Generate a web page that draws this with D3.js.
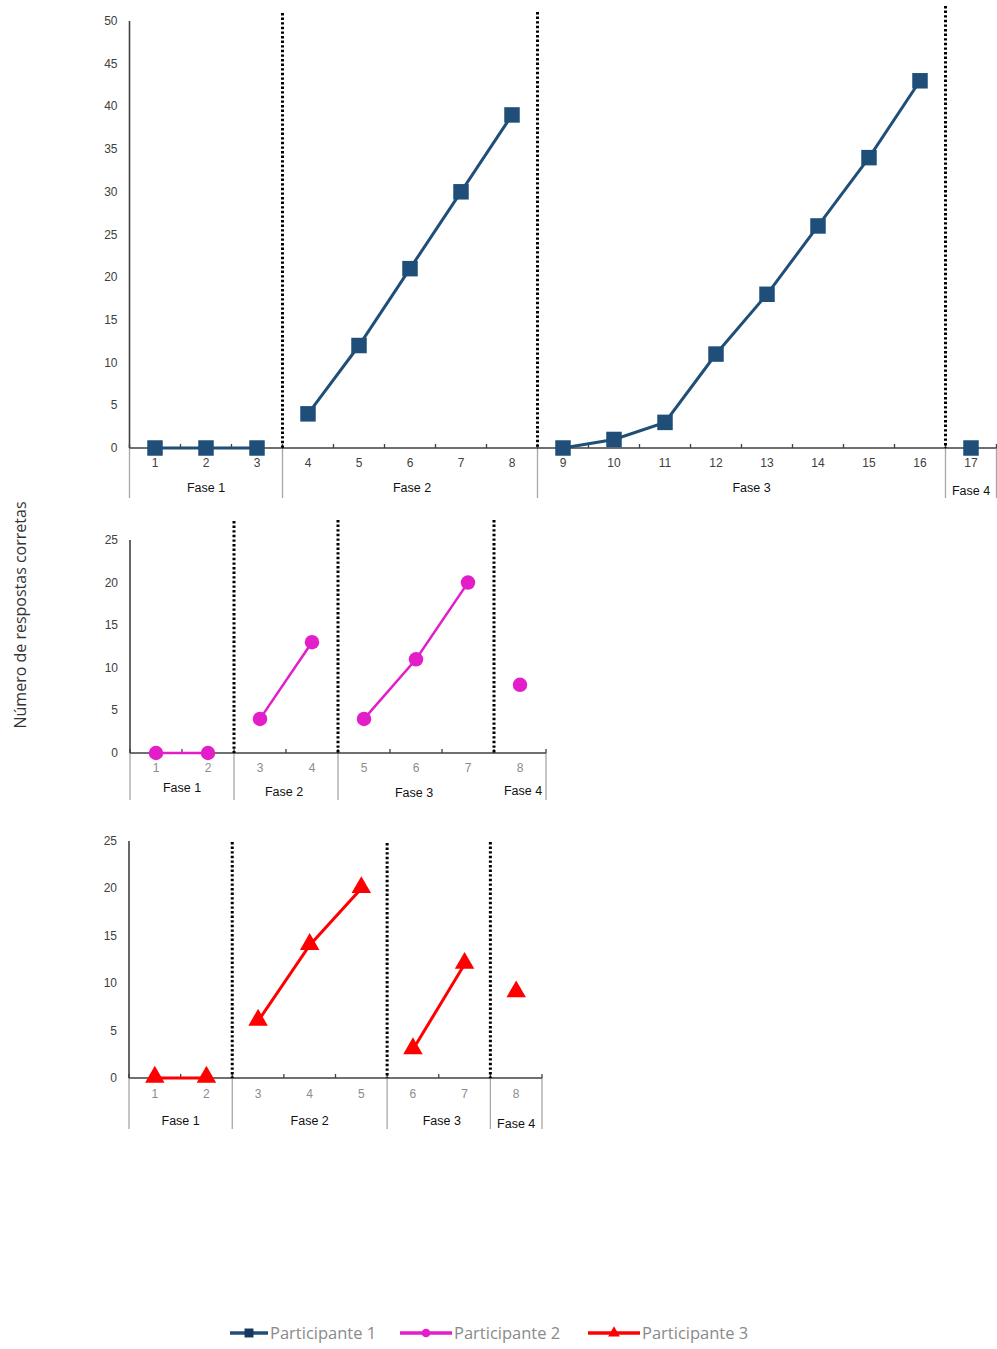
<!DOCTYPE html>
<html>
<head>
<meta charset="utf-8">
<script src="https://cdn.jsdelivr.net/npm/d3@7"></script>
<style>
  body { margin: 0; background: #fff; }
  svg { display: block; }
  .tick-label { font-family: Arial, "Liberation Sans", sans-serif; font-size: 12px; fill: #404040; }
  .phase-label { font-family: Arial, "Liberation Sans", sans-serif; font-size: 12.5px; fill: #111; }
</style>
</head>
<body>
<script>
// data
var phaseNames = ['Fase 1', 'Fase 2', 'Fase 3', 'Fase 4'];

var p1Sessions = ['1','2','3','4','5','6','7','8','9','10','11','12','13','14','15','16','17'];
var p1Values = [0, 0, 0, 4, 12, 21, 30, 39, 0, 1, 3, 11, 18, 26, 34, 43, 0];
var p1PhaseSizes = [3, 5, 8, 1];
var p1Ticks = [0, 5, 10, 15, 20, 25, 30, 35, 40, 45, 50];

var p2Sessions = ['1','2','3','4','5','6','7','8'];
var p2Values = [0, 0, 4, 13, 4, 11, 20, 8];
var p2PhaseSizes = [2, 2, 3, 1];
var p2Ticks = [0, 5, 10, 15, 20, 25];

var p3Sessions = ['1','2','3','4','5','6','7','8'];
var p3Values = [0, 0, 6, 14, 20, 3, 12, 9];
var p3PhaseSizes = [2, 3, 2, 1];
var p3Ticks = [0, 5, 10, 15, 20, 25];

var legendNames = ['Participante 1', 'Participante 2', 'Participante 3'];

var W = 997, H = 1349;

var svg = d3.select('body').append('svg')
  .attr('width', W)
  .attr('height', H)

svg.append('rect').attr('width', W).attr('height', H).attr('fill', '#fff')

// y axis title
svg.append('text')
  .attr('transform', 'translate(26,615) rotate(-90)')
  .attr('text-anchor', 'middle')
  .attr('font-family', '"Open Sans", "Noto Sans", sans-serif')
  .attr('font-size', '16px')
  .attr('fill', '#333')
  .text('Número de respostas corretas')

var panels = [
  { sessions: p1Sessions, values: p1Values, sizes: p1PhaseSizes, ticks: p1Ticks,
    x0: 129.5, x1: 996.5, yTop: 21, yBot: 448, dotTop: [13, 12, 6], sepBot: 498, catY: 467,
    phaseY: [492, 492, 492, 495], phaseDx: [0, 2, 10, 0],
    color: '#1f4e79', marker: 'square', lw: 3, catFill: '#404040', skipSep: [] },
  { sessions: p2Sessions, values: p2Values, sizes: p2PhaseSizes, ticks: p2Ticks,
    x0: 130, x1: 546, yTop: 540, yBot: 753, dotTop: [521, 520, 520], sepBot: 800, catY: 772,
    phaseY: [792, 796, 797, 795], phaseDx: [0, -2, -2, 3],
    color: '#e31ec8', marker: 'circle', lw: 2.5, catFill: '#8c8c8c', skipSep: [3] },
  { sessions: p3Sessions, values: p3Values, sizes: p3PhaseSizes, ticks: p3Ticks,
    x0: 129, x1: 542, yTop: 841, yBot: 1078, dotTop: [842, 843, 842], sepBot: 1129, catY: 1098,
    phaseY: [1125, 1125, 1125, 1128], phaseDx: [0, 0, 3, 0],
    color: '#ff0000', marker: 'triangle', lw: 3, catFill: '#8c8c8c', skipSep: [] }
];

panels.forEach(function(p, pi){
  var g = svg.append('g').attr('class', 'panel-' + pi)

  var x = d3.scaleBand().domain(p.sessions).range([p.x0, p.x1])
  var y = d3.scaleLinear().domain([0, d3.max(p.ticks)]).range([p.yBot, p.yTop])

  // phase boundaries as indexes into sessions
  var bounds = [0];
  p.sizes.forEach(function(s, i){ bounds.push(bounds[i] + s) })
  var boundX = function(k){ return k < p.sessions.length ? x(p.sessions[k]) : p.x1 }

  // grey separators under the axis
  g.selectAll('.sep')
    .data(bounds.filter(function(b, i){ return p.skipSep.indexOf(i) < 0 })).enter().append('line')
    .attr('class', 'sep')
    .attr('x1', boundX).attr('x2', boundX)
    .attr('y1', p.yBot).attr('y2', p.sepBot)
    .attr('stroke', '#a6a6a6')
    .attr('stroke-width', 1.3)

  // y axis
  g.append('line')
    .attr('x1', p.x0).attr('x2', p.x0)
    .attr('y1', p.yTop).attr('y2', p.yBot)
    .attr('stroke', '#404040').attr('stroke-width', 1.6)

  g.selectAll('.ylab')
    .data(p.ticks).enter().append('text')
    .attr('class', 'tick-label')
    .attr('x', p.x0 - 12)
    .attr('y', function(d){ return y(d) + 4 })
    .attr('text-anchor', 'end')
    .text(function(d){ return d })

  // x axis with small ticks at category boundaries
  g.append('line')
    .attr('x1', p.x0).attr('x2', p.x1)
    .attr('y1', p.yBot).attr('y2', p.yBot)
    .attr('stroke', '#404040').attr('stroke-width', 1.6)

  g.selectAll('.xtick')
    .data(d3.range(p.sessions.length + 1)).enter().append('line')
    .attr('x1', boundX).attr('x2', boundX)
    .attr('y1', p.yBot).attr('y2', p.yBot - 4)
    .attr('stroke', '#404040').attr('stroke-width', 1.3)

  g.selectAll('.xlab')
    .data(p.sessions).enter().append('text')
    .attr('class', 'tick-label')
    .attr('x', function(d){ return x(d) + x.bandwidth() / 2 })
    .attr('y', p.catY)
    .attr('text-anchor', 'middle')
    .style('fill', p.catFill)
    .text(function(d){ return d })

  // phase labels
  g.selectAll('.phase')
    .data(p.sizes).enter().append('text')
    .attr('class', 'phase-label')
    .attr('x', function(d, i){ return (boundX(bounds[i]) + boundX(bounds[i + 1])) / 2 + p.phaseDx[i] })
    .attr('y', function(d, i){ return p.phaseY[i] })
    .attr('text-anchor', 'middle')
    .text(function(d, i){ return phaseNames[i] })

  // dotted phase change lines
  g.selectAll('.dot-line')
    .data(bounds.slice(1, -1)).enter().append('line')
    .attr('x1', boundX).attr('x2', boundX)
    .attr('y1', function(d, i){ return p.dotTop[i] }).attr('y2', p.yBot)
    .attr('stroke', '#000')
    .attr('stroke-width', 3)
    .attr('stroke-dasharray', '2.4,2.2')

  // lines inside each phase
  var line = d3.line()
    .x(function(d){ return x(d.s) + x.bandwidth() / 2 })
    .y(function(d){ return y(d.v) })

  p.sizes.forEach(function(s, i){
    var seg = [];
    for (var k = bounds[i]; k < bounds[i + 1]; k++) seg.push({ s: p.sessions[k], v: p.values[k] })
    if (seg.length > 1) {
      g.append('path')
        .datum(seg)
        .attr('d', line)
        .attr('fill', 'none')
        .attr('stroke', p.color)
        .attr('stroke-width', p.lw)
    }
  })

  // markers
  var pts = p.values.map(function(v, k){ return { s: p.sessions[k], v: v } })
  var sym = p.marker === 'square' ? d3.symbolSquare : p.marker === 'circle' ? d3.symbolCircle : d3.symbolTriangle
  var size = p.marker === 'square' ? 240 : p.marker === 'circle' ? 165 : 165
  g.selectAll('.mark')
    .data(pts).enter().append('path')
    .attr('d', d3.symbol().type(sym).size(size))
    .attr('transform', function(d){
      var dy = p.marker === 'triangle' ? -1 : 0;
      return 'translate(' + (x(d.s) + x.bandwidth() / 2) + ',' + (y(d.v) + dy) + ')'
    })
    .attr('fill', p.color)
})

// legend
var legendX = [230, 400, 588];
var legend = svg.selectAll('.legend')
  .data(panels).enter().append('g')
  .attr('transform', function(d, i){ return 'translate(' + legendX[i] + ',1333)' })

legend.append('line')
  .attr('x1', 0).attr('x2', function(d, i){ return i === 0 ? 38 : 52 })
  .attr('y1', 0).attr('y2', 0)
  .attr('stroke', function(d){ return d.color })
  .attr('stroke-width', 3.5)

legend.append('path')
  .attr('d', function(d){
    var sym = d.marker === 'square' ? d3.symbolSquare : d.marker === 'circle' ? d3.symbolCircle : d3.symbolTriangle
    return d3.symbol().type(sym).size(d.marker === 'square' ? 80 : 60)()
  })
  .attr('transform', function(d, i){ return 'translate(' + (i === 0 ? 19 : 26) + ',0)' })
  .attr('fill', function(d, i){ return i === 0 ? '#17375e' : d.color })

legend.append('text')
  .attr('x', function(d, i){ return i === 0 ? 40 : 54 })
  .attr('y', 6)
  .attr('font-family', '"Open Sans", "Noto Sans", sans-serif')
  .attr('font-size', '16.5px')
  .attr('fill', '#8a8a8a')
  .text(function(d, i){ return legendNames[i] })
</script>
</body>
</html>
